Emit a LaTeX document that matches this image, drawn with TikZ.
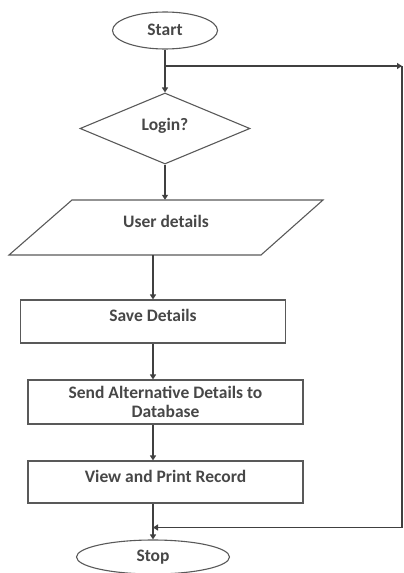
\documentclass[tikz,border=0pt]{standalone}
\usepackage{fontspec}
\setmainfont{Carlito}
\usetikzlibrary{shapes.geometric, arrows.meta, calc}

\begin{document}
\begin{tikzpicture}[x=1pt,y=-1pt,
  every node/.style={font=\bfseries\fontsize{17.5}{19}\selectfont, text=black!72},
  shapeline/.style={draw=black!65, line width=1.1pt},
  flowbox/.style={shapeline, rectangle, inner sep=0pt},
  term/.style={shapeline, ellipse, inner sep=0pt},
  midtext/.style={text height=12pt, text depth=12pt},
  conn/.style={draw=black!75, line width=1.3pt, -{Triangle[length=5pt,width=6pt]}},
  plainline/.style={draw=black!75, line width=1.3pt}]
\useasboundingbox (0,0) rectangle (404,573);

% nodes
\node[term, minimum width=105pt, minimum height=37pt, text height=12pt, text depth=2pt] (start) at (165,30.5) {Start};
\node[shapeline, diamond, aspect=2.4, inner sep=0pt, minimum width=170pt, minimum height=71pt, text height=12pt, text depth=9pt] (login) at (165,128.5) {Login?};
\node[inner sep=0pt, minimum width=190pt, minimum height=55pt, midtext] (user) at (166,227.5) {User details};
\draw[shapeline] (72,200) -- (323,200) -- (261,255) -- (9,255) -- cycle;
\node[flowbox, minimum width=265pt, minimum height=43pt, midtext] (save) at (153,321.5) {Save Details};
\node[flowbox, minimum width=275pt, minimum height=44pt, align=center] (send) at (165.5,402) {Send Alternative Details to\\Database};
\node[flowbox, minimum width=275pt, minimum height=42pt, midtext] (view) at (165.5,482) {View and Print Record};
\node[term, minimum width=153pt, minimum height=34pt] (stop) at (153,557) {Stop};

% junction coordinates
\coordinate (j1) at (165,66);
\coordinate (r1) at (402,66);
\coordinate (r2) at (402,527.5);
\coordinate (j2) at (153,527.5);

% connectors
\draw[plainline] (start.south) -- (j1);
\draw[conn] (j1) -- (login.north);
\draw[conn] (j1) -- (r1);
\draw[plainline] (r1) -- (r2);
\draw[conn] (r2) -- (j2);
\draw[conn] (login.south) -- (login.south |- user.north);
\draw[conn] (user.south -| save.north) -- (save.north);
\draw[conn] (save.south) -- (save.south |- send.north);
\draw[conn] (save.south |- send.south) -- (save.south |- view.north);
\draw[plainline] (save.south |- view.south) -- (j2);
\draw[conn] (j2) -- (stop.north);
\end{tikzpicture}
\end{document}
